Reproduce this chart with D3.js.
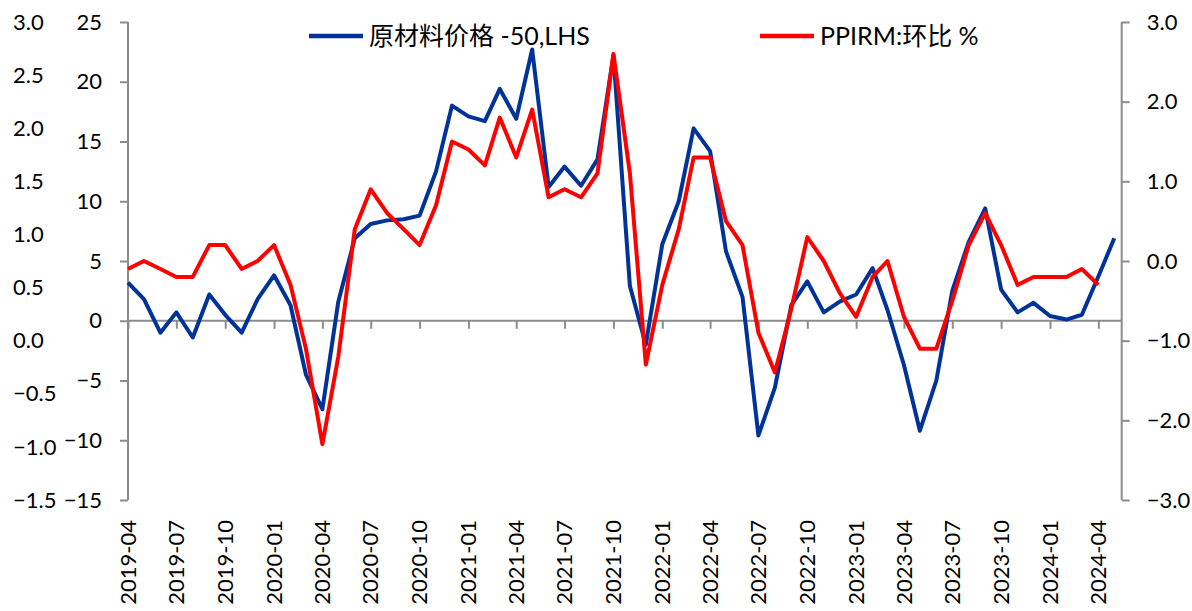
<!DOCTYPE html>
<html>
<head>
<meta charset="utf-8">
<script src="https://cdn.jsdelivr.net/npm/d3@7"></script>
<style>
  body { margin: 0; background: #fff; }
  text { font-family: Lato, 'Noto Sans CJK SC', sans-serif; fill: #000; }
</style>
</head>
<body>
<div id="chart"></div>
<script>
// months 2019-04 .. 2024-05
var parse_month   =   d3.timeParse( '%Y-%m' );
var months        =   d3.timeMonth.range( parse_month( '2019-04' ), parse_month( '2024-06' ) );

// 原材料价格 -50 (LHS)
var raw_price     =   [ 3.2, 1.8, -1.0, 0.7, -1.4, 2.2, 0.5, -1.0, 1.8, 3.8, 1.3, -4.5,
                        -7.4, 1.6, 6.9, 8.1, 8.4, 8.5, 8.8, 12.5, 18.0, 17.1, 16.7, 19.4,
                        16.9, 22.7, 11.2, 12.9, 11.3, 13.5, 22.2, 2.9, -2.0, 6.4, 10.0, 16.1,
                        14.2, 5.8, 2.0, -9.6, -5.6, 1.3, 3.3, 0.7, 1.6, 2.2, 4.4, 0.9,
                        -3.7, -9.2, -5.0, 2.5, 6.6, 9.4, 2.6, 0.7, 1.5, 0.4, 0.1, 0.5,
                        3.7, 6.9 ];

// PPIRM 环比 % (RHS)
var ppirm_mom     =   [ -0.1, 0.0, -0.1, -0.2, -0.2, 0.2, 0.2, -0.1, 0.0, 0.2, -0.3, -1.1,
                        -2.3, -1.2, 0.4, 0.9, 0.6, 0.4, 0.2, 0.7, 1.5, 1.4, 1.2, 1.8,
                        1.3, 1.9, 0.8, 0.9, 0.8, 1.1, 2.6, 1.1, -1.3, -0.3, 0.4, 1.3,
                        1.3, 0.5, 0.2, -0.9, -1.4, -0.6, 0.3, 0.0, -0.4, -0.7, -0.2, 0.0,
                        -0.7, -1.1, -1.1, -0.5, 0.2, 0.6, 0.2, -0.3, -0.2, -0.2, -0.2, -0.1,
                        -0.3 ];

var far_ticks     =   [ 3.0, 2.5, 2.0, 1.5, 1.0, 0.5, 0.0, -0.5, -1.0, -1.5 ];
var left_ticks    =   [ 25, 20, 15, 10, 5, 0, -5, -10, -15 ];
var right_ticks   =   [ 3.0, 2.0, 1.0, 0.0, -1.0, -2.0, -3.0 ];

var legend_names  =   [ '原材料价格 -50,LHS', 'PPIRM:环比 %' ];
var colors        =   [ '#003399', '#ff0000' ];

// Create SVG Element
var chart_width   =   1192;
var chart_height  =   611;
var plot_left     =   128;
var plot_right    =   1121.7;
var plot_top      =   22;
var plot_bottom   =   500;
var axis_color    =   '#8c8c8c';

var svg           =   d3.select( '#chart' )
    .append( 'svg' )
    .attr( 'width', chart_width )
    .attr( 'height', chart_height );

// Scales
var x_scale       =   d3.scaleTime()
    .domain( [ parse_month( '2019-04' ), new Date( 2024, 4, 15 ) ] )
    .range( [ plot_left, plot_right ] );

var y_left        =   d3.scaleLinear().domain( [ -15, 25 ] ).range( [ plot_bottom, plot_top ] );
var y_right       =   d3.scaleLinear().domain( [ -3, 3 ] ).range( [ plot_bottom, plot_top ] );
var y_far         =   d3.scaleLinear().domain( [ -1.5, 3 ] ).range( [ plot_bottom, plot_top ] );

// Far left labels (no axis line)
svg.append( 'g' )
    .selectAll( 'text' )
    .data( far_ticks )
    .enter()
    .append( 'text' )
    .attr( 'x', 13 )
    .attr( 'y', function( d ){ return y_far( d ); } )
    .attr( 'dy', '0.35em' )
    .attr( 'font-size', 22 )
    .text( d3.format( '.1f' ) );

// Left axis
var left_axis     =   svg.append( 'g' )
    .attr( 'transform', 'translate(' + plot_left + ',0)' )
    .call( d3.axisLeft( y_left ).tickValues( left_ticks ).tickSize( 8 ).tickPadding( 18 ) );

// Right axis
var right_axis    =   svg.append( 'g' )
    .attr( 'transform', 'translate(' + plot_right + ',0)' )
    .call( d3.axisRight( y_right ).tickValues( right_ticks ).tickSize( 8 )
        .tickPadding( 17 ).tickFormat( d3.format( '.1f' ) ) );

// X axis on the zero line of the left scale
var x_axis        =   svg.append( 'g' )
    .attr( 'transform', 'translate(0,' + y_left( 0 ) + ')' )
    .call( d3.axisBottom( x_scale )
        .ticks( d3.timeMonth.every( 3 ) )
        .tickSize( 8 )
        .tickFormat( '' ) );

x_axis.select( '.domain' ).attr( 'd', 'M' + plot_left + ',0H' + plot_right );

[ left_axis, right_axis, x_axis ].forEach( function( g ){
    g.select( '.domain' ).attr( 'stroke', axis_color ).attr( 'stroke-width', 2 );
    g.selectAll( '.tick line' ).attr( 'stroke', axis_color ).attr( 'stroke-width', 2 );
    g.selectAll( '.tick text' )
        .attr( 'font-size', 22 )
        .attr( 'font-family', "Lato, 'Noto Sans CJK SC', sans-serif" )
        .attr( 'fill', '#000' );
});
left_axis.select( '.domain' ).attr( 'd', 'M0,' + plot_top + 'V' + plot_bottom );
right_axis.select( '.domain' ).attr( 'd', 'M0,' + plot_top + 'V' + plot_bottom );

// Rotated month labels
var x_labels      =   x_scale.ticks( d3.timeMonth.every( 3 ) );
svg.append( 'g' )
    .selectAll( 'text' )
    .data( x_labels )
    .enter()
    .append( 'text' )
    .attr( 'transform', function( d ){
        return 'translate(' + x_scale( d ) + ',520) rotate(-90)';
    })
    .attr( 'dy', '0.35em' )
    .attr( 'text-anchor', 'end' )
    .attr( 'font-size', 22 )
    .text( d3.timeFormat( '%Y-%m' ) );

// Lines
var blue_line     =   d3.line()
    .x( function( d, i ){ return x_scale( months[ i ] ); } )
    .y( function( d ){ return y_left( d ); } );

var red_line      =   d3.line()
    .x( function( d, i ){ return x_scale( months[ i ] ); } )
    .y( function( d ){ return y_right( d ); } );

svg.append( 'path' )
    .datum( raw_price )
    .attr( 'd', blue_line )
    .attr( 'fill', 'none' )
    .attr( 'stroke', colors[ 0 ] )
    .attr( 'stroke-width', 4 )
    .attr( 'stroke-linejoin', 'round' );

svg.append( 'path' )
    .datum( ppirm_mom )
    .attr( 'd', red_line )
    .attr( 'fill', 'none' )
    .attr( 'stroke', colors[ 1 ] )
    .attr( 'stroke-width', 4 )
    .attr( 'stroke-linejoin', 'round' );

// Legend
var legend_x      =   [ 309, 760 ];
var legend        =   svg.selectAll( '.legend' )
    .data( legend_names )
    .enter()
    .append( 'g' )
    .attr( 'class', 'legend' )
    .attr( 'transform', function( d, i ){ return 'translate(' + legend_x[ i ] + ',36)'; } );

legend.append( 'line' )
    .attr( 'x1', 0 )
    .attr( 'x2', 54 )
    .attr( 'stroke', function( d, i ){ return colors[ i ]; } )
    .attr( 'stroke-width', 4.5 );

legend.append( 'text' )
    .attr( 'x', 60 )
    .attr( 'dy', '0.35em' )
    .attr( 'font-size', 25 )
    .text( function( d ){ return d; } );
</script>
</body>
</html>
